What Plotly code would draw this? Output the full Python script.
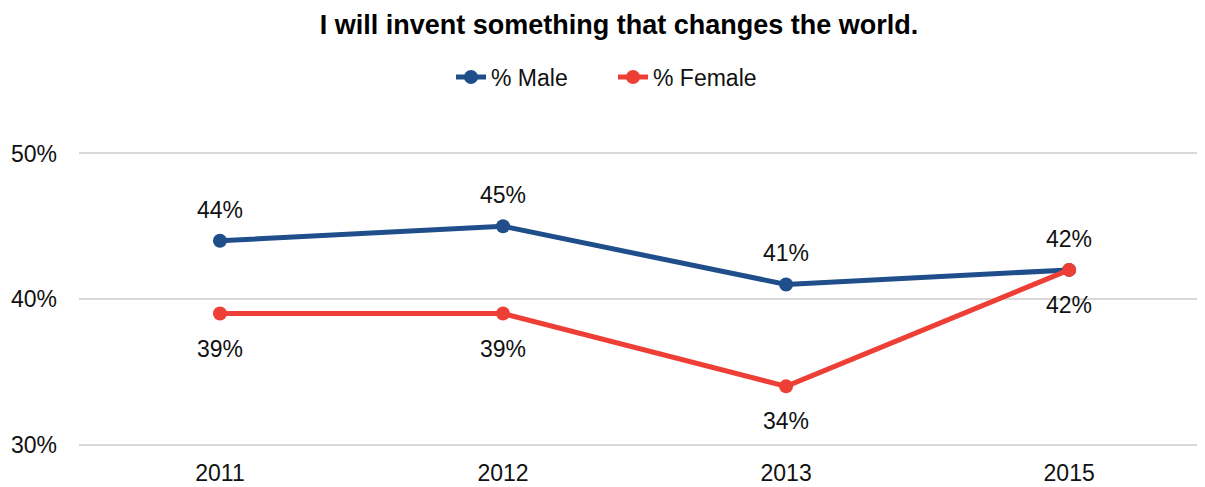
import plotly.graph_objects as go

years = ["2011", "2012", "2013", "2015"]
male = [44, 45, 41, 42]
female = [39, 39, 34, 42]
yticks = [30, 40, 50]

xs = list(range(len(years)))
blue = "#1F4E8A"
red = "#EE3F37"

fig = go.Figure()
fig.add_trace(go.Scatter(x=xs, y=male, mode="lines+markers", name="% Male",
                         line=dict(color=blue, width=5), marker=dict(size=14, color=blue)))
fig.add_trace(go.Scatter(x=xs, y=female, mode="lines+markers", name="% Female",
                         line=dict(color=red, width=5), marker=dict(size=14, color=red)))

for x, v in zip(xs, male):
    fig.add_annotation(x=x, y=v, text=f"{v}%", showarrow=False, yshift=31,
                       font=dict(size=23, color="#111111"))
for x, v in zip(xs, female):
    fig.add_annotation(x=x, y=v, text=f"{v}%", showarrow=False, yshift=-35,
                       font=dict(size=23, color="#111111"))

# page has an 8px body margin: figure is offset by (8, 8)
fig.update_layout(
    width=1197, height=479,
    margin=dict(l=71, r=0, t=144, b=41),
    paper_bgcolor="white", plot_bgcolor="white",
    font=dict(family="Liberation Sans, Arial, sans-serif", size=23, color="#111111"),
    title=dict(text="<b>I will invent something that changes the world.</b>",
               x=(619 - 8) / 1197, xanchor="center", y=1 - (25 - 8) / 479, yanchor="middle",
               font=dict(size=27, color="#000000")),
    legend=dict(orientation="h", x=(613 - 79) / 1126, xanchor="center",
                y=1 + (153 - 78) / 294, yanchor="middle",
                font=dict(size=23), traceorder="normal", entrywidth=117),
    showlegend=True,
)
fig.update_xaxes(range=[-0.498, 3.48], tickvals=xs, ticktext=years, showgrid=False,
                 zeroline=False, showline=False, ticks="", tickfont=dict(size=23),
                 ticklabelstandoff=11)
fig.update_yaxes(range=[29.9, 50.1], tickvals=yticks, ticktext=[f"{t}%" for t in yticks],
                 showgrid=True, gridcolor="#D9D9D9", gridwidth=2, zeroline=False,
                 showline=False, ticks="", ticklabelstandoff=21, tickfont=dict(size=23))

fig.write_html("out.html")
